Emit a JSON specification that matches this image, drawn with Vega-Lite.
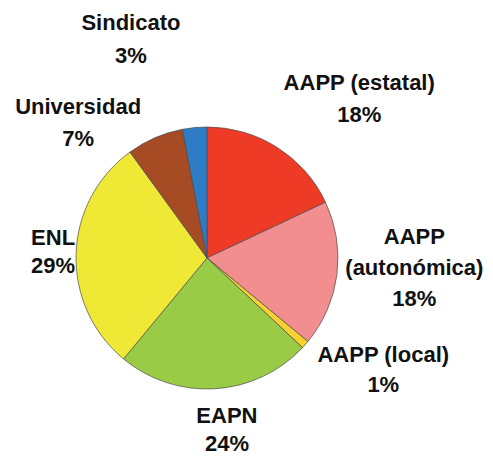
{
  "$schema": "https://vega.github.io/schema/vega-lite/v6.json",
  "autosize": {"type": "none"},
  "width": 414,
  "height": 412,
  "padding": {"left": 0, "top": 52, "right": 79, "bottom": 0},
  "background": "white",
  "view": {"stroke": null},
  "data": {
    "values": [
      {"cat": "AAPP (estatal)", "label": "AAPP (estatal)\n18%", "value": 18, "orden": 1},
      {"cat": "AAPP (autonómica)", "label": "AAPP\n(autonómica)\n18%", "value": 18, "orden": 2},
      {"cat": "AAPP (local)", "label": "AAPP (local)\n1%", "value": 1, "orden": 3},
      {"cat": "EAPN", "label": "EAPN\n24%", "value": 24, "orden": 4},
      {"cat": "ENL", "label": "ENL\n29%", "value": 29, "orden": 5},
      {"cat": "Universidad", "label": "Universidad\n7%", "value": 7, "orden": 6},
      {"cat": "Sindicato", "label": "Sindicato\n3%", "value": 3, "orden": 7}
    ]
  },
  "encoding": {
    "theta": {"field": "value", "type": "quantitative", "stack": true},
    "order": {"field": "orden", "type": "quantitative", "sort": "ascending"}
  },
  "layer": [
    {
      "mark": {"type": "arc", "outerRadius": 131, "stroke": "#4a4a4a", "strokeWidth": 0.7},
      "encoding": {
        "color": {
          "field": "cat", "type": "nominal", "legend": null,
          "scale": {
            "domain": ["AAPP (estatal)", "AAPP (autonómica)", "AAPP (local)", "EAPN", "ENL", "Universidad", "Sindicato"],
            "range": ["#EE3B26", "#F38E90", "#F8D130", "#9ACB46", "#EFE935", "#A64B23", "#2E7BC6"]
          }
        }
      }
    },
    {
      "mark": {"type": "text", "radius": 215, "dx": 37, "dy": 7, "font": "Liberation Sans", "fontWeight": "bold", "fontSize": 22, "lineHeight": 32, "lineBreak": "\n", "fill": "#111111"},
      "encoding": {"detail": {"field": "cat"}, "text": {"condition": {"test": "datum.cat === 'AAPP (estatal)'", "field": "label"}, "value": ""}}
    },
    {
      "mark": {"type": "text", "radius": 207, "dx": 2, "dy": -47, "font": "Liberation Sans", "fontWeight": "bold", "fontSize": 22, "lineHeight": 31, "lineBreak": "\n", "fill": "#111111"},
      "encoding": {"detail": {"field": "cat"}, "text": {"condition": {"test": "datum.cat === 'AAPP (autonómica)'", "field": "label"}, "value": ""}}
    },
    {
      "mark": {"type": "text", "radius": 207, "dx": 21, "dy": -40, "font": "Liberation Sans", "fontWeight": "bold", "fontSize": 22, "lineHeight": 30, "lineBreak": "\n", "fill": "#111111"},
      "encoding": {"detail": {"field": "cat"}, "text": {"condition": {"test": "datum.cat === 'AAPP (local)'", "field": "label"}, "value": ""}}
    },
    {
      "mark": {"type": "text", "radius": 174, "dx": 9, "dy": -16, "font": "Liberation Sans", "fontWeight": "bold", "fontSize": 22, "lineHeight": 28, "lineBreak": "\n", "fill": "#111111"},
      "encoding": {"detail": {"field": "cat"}, "text": {"condition": {"test": "datum.cat === 'EAPN'", "field": "label"}, "value": ""}}
    },
    {
      "mark": {"type": "text", "radius": 154, "dx": 0, "dy": -15, "font": "Liberation Sans", "fontWeight": "bold", "fontSize": 22, "lineHeight": 28, "lineBreak": "\n", "fill": "#111111"},
      "encoding": {"detail": {"field": "cat"}, "text": {"condition": {"test": "datum.cat === 'ENL'", "field": "label"}, "value": ""}}
    },
    {
      "mark": {"type": "text", "radius": 176, "dx": -59, "dy": 11, "font": "Liberation Sans", "fontWeight": "bold", "fontSize": 22, "lineHeight": 32, "lineBreak": "\n", "fill": "#111111"},
      "encoding": {"detail": {"field": "cat"}, "text": {"condition": {"test": "datum.cat === 'Universidad'", "field": "label"}, "value": ""}}
    },
    {
      "mark": {"type": "text", "radius": 224, "dx": -55, "dy": -12, "font": "Liberation Sans", "fontWeight": "bold", "fontSize": 22, "lineHeight": 33, "lineBreak": "\n", "fill": "#111111"},
      "encoding": {"detail": {"field": "cat"}, "text": {"condition": {"test": "datum.cat === 'Sindicato'", "field": "label"}, "value": ""}}
    }
  ]
}
